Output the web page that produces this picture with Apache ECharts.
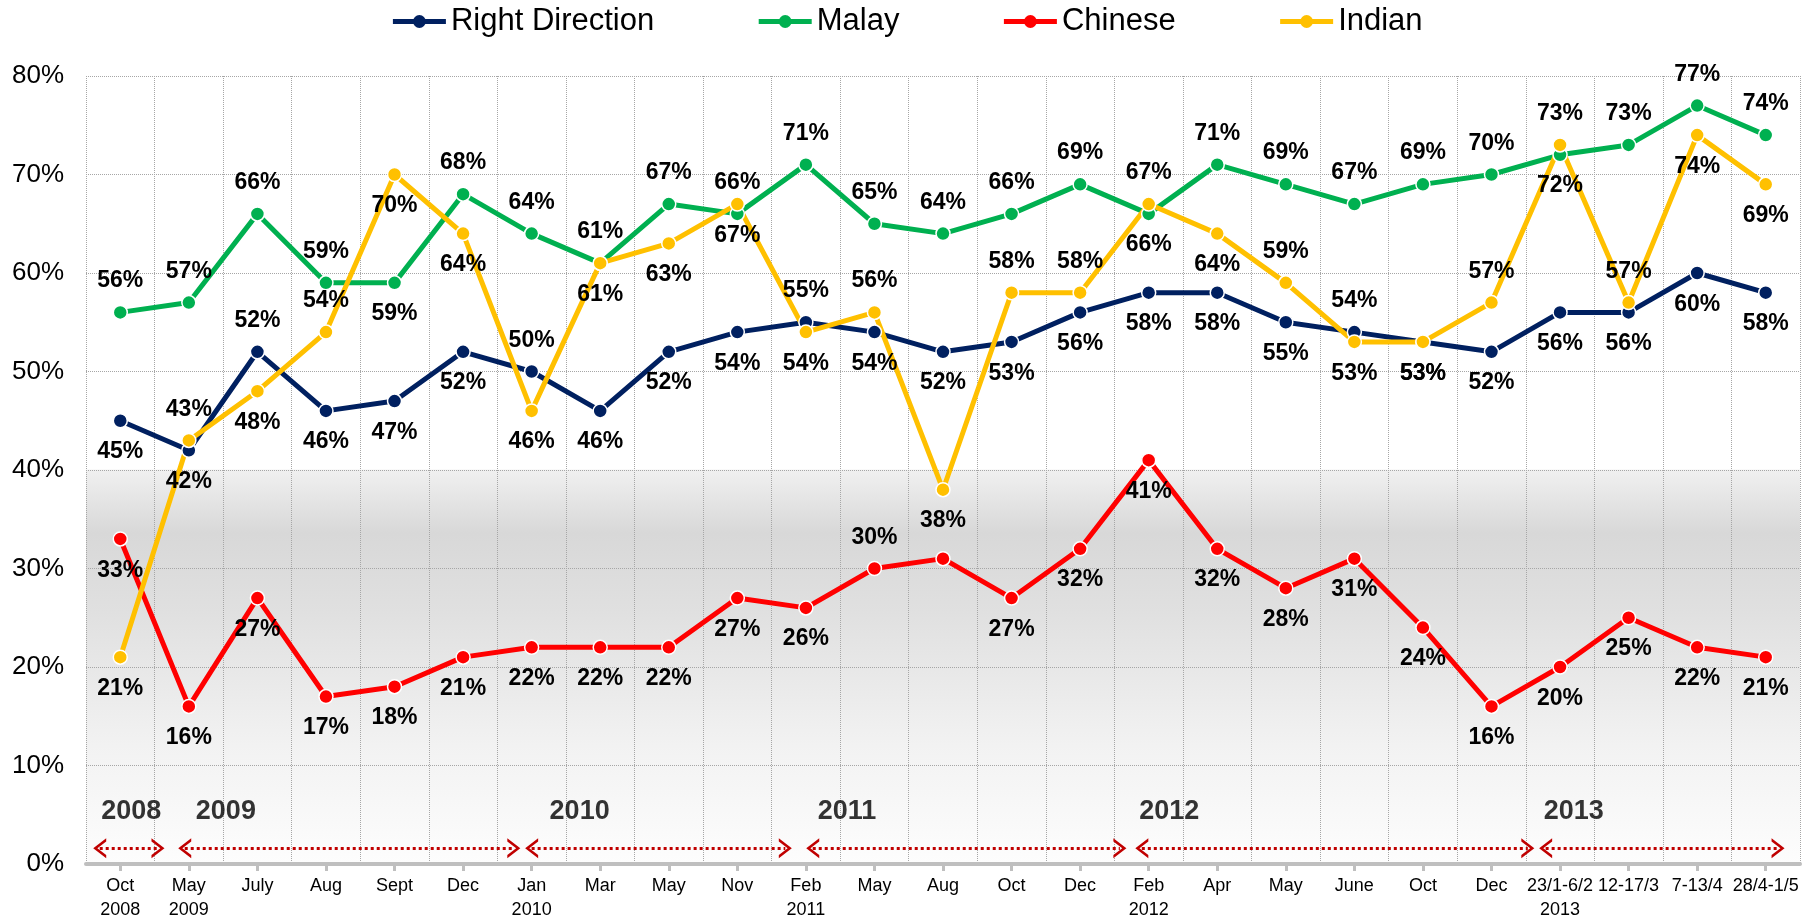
<!DOCTYPE html>
<html>
<head>
<meta charset="utf-8">
<script src="https://cdn.jsdelivr.net/npm/echarts@6/dist/echarts.min.js"></script>
<style>
  html, body { margin: 0; padding: 0; background: #fff; }
  #chart { width: 1813px; height: 922px; }
</style>
</head>
<body>
<div id="chart"></div>
<script>
// x轴 类目
var categories = ['Oct\n2008', 'May\n2009', 'July', 'Aug', 'Sept', 'Dec', 'Jan\n2010', 'Mar', 'May', 'Nov',
  'Feb\n2011', 'May', 'Aug', 'Oct', 'Dec', 'Feb\n2012', 'Apr', 'May', 'June', 'Oct', 'Dec',
  '23/1-6/2\n2013', '12-17/3', '7-13/4', '28/4-1/5'];

// 数据 (%)
var rightDirection = [45, 42, 52, 46, 47, 52, 50, 46, 52, 54, 55, 54, 52, 53, 56, 58, 58, 55, 54, 53, 52, 56, 56, 60, 58];
var malay = [56, 57, 66, 59, 59, 68, 64, 61, 67, 66, 71, 65, 64, 66, 69, 66, 71, 69, 67, 69, 70, 72, 73, 77, 74];
var chinese = [33, 16, 27, 17, 18, 21, 22, 22, 22, 27, 26, 30, 31, 27, 32, 41, 32, 28, 31, 24, 16, 20, 25, 22, 21];
var indian = [21, 43, 48, 54, 70, 64, 46, 61, 63, 67, 54, 56, 38, 58, 58, 67, 64, 59, 53, 53, 57, 73, 57, 74, 69];

var yTicks = [0, 10, 20, 30, 40, 50, 60, 70, 80];

// 年份标注
var years = ['2008', '2009', '2010', '2011', '2012', '2013'];
var yearSpans = [[-0.4, 0.65], [0.84, 5.84], [5.9, 9.8], [10.0, 14.68], [14.8, 20.63], [20.69, 24.28]];
var yearTextX = [0.16, 1.54, 6.7, 10.6, 15.3, 21.2];

// 标签位置 t=上 b=下 n=不显示
var sideRD = 'bbtbbbtbbbtbbbbbbbtbbbbbb';
var sideMalay = 'ttttbttttttttttbtttttbttt';
var sideChinese = 'bbbbbbbbbbbtnbbbbbbbbbbbb';
var sideIndian = 'btbtbbbbbbbtbtttbtbbtttbb';

function build(values, side) {
  return values.map(function (v, i) {
    var s = side.charAt(i);
    return {
      value: v,
      label: { show: s !== 'n', position: s === 't' ? 'top' : 'bottom' }
    };
  });
}

function lineSeries(name, color, values, side) {
  return {
    name: name,
    type: 'line',
    data: build(values, side),
    symbol: 'circle',
    symbolSize: 14,
    lineStyle: { width: 5, color: color },
    itemStyle: { color: color, borderColor: '#fff', borderWidth: 1.5 },
    label: {
      show: true,
      distance: 12,
      fontFamily: 'Liberation Sans',
      fontWeight: 'bold',
      fontSize: 23,
      color: '#000',
      formatter: function (p) { return Math.round(p.value) + '%'; }
    },
    emphasis: { disabled: true },
    z: 3
  };
}

// 箭头 (开口 V 形)
var chevron = 'path://M0,10 L5,0 L10,10 L8.4,10 L5,3.2 L1.6,10 Z';
var tipPad = 0.1;

var chart = echarts.init(document.getElementById('chart'));
var option = {
  animation: false,
  textStyle: { fontFamily: 'Liberation Sans' },
  color: ['#002060', '#00b050', '#ff0000', '#ffc000'],
  legend: {
    top: 1,
    left: 'center',
    itemWidth: 53,
    itemHeight: 16,
    itemGap: 102,
    lineStyle: { width: 5 },
    itemStyle: { borderWidth: 0 },
    textStyle: { fontSize: 31, color: '#000', fontFamily: 'Liberation Sans' },
    data: ['Right Direction', 'Malay', 'Chinese', 'Indian']
  },
  grid: {
    left: 86, right: 13, top: 76, bottom: 55,
    show: true,
    borderWidth: 0,
    backgroundColor: new echarts.graphic.LinearGradient(0, 0, 0, 1, [
      { offset: 0, color: '#ffffff' },
      { offset: 0.499, color: '#ffffff' },
      { offset: 0.5, color: '#f0f0f0' },
      { offset: 0.58, color: '#d8d8d8' },
      { offset: 0.68, color: '#e0e0e0' },
      { offset: 0.85, color: '#f2f2f2' },
      { offset: 1, color: '#fdfdfd' }
    ])
  },
  xAxis: [{
    type: 'category',
    data: categories,
    boundaryGap: true,
    axisLine: { show: true, lineStyle: { color: '#bfbfbf', width: 4 } },
    axisTick: { show: true, alignWithLabel: true, length: 7, lineStyle: { color: '#bfbfbf', width: 3 } },
    axisLabel: { color: '#000', fontSize: 18, lineHeight: 24, margin: 10, interval: 0 },
    splitLine: { show: true, lineStyle: { color: '#a6a6a6', type: 'dotted', width: 1 } }
  }, {
    // 年份标注用的隐藏轴
    type: 'value',
    min: -0.5,
    max: 24.5,
    show: false
  }],
  yAxis: {
    type: 'value',
    min: 0,
    max: 80,
    interval: 10,
    axisLine: { show: false },
    axisTick: { show: false },
    axisLabel: { color: '#000', fontSize: 26, margin: 22, formatter: '{value}%' },
    splitLine: { show: true, lineStyle: { color: '#a6a6a6', type: 'dotted', width: 1 } }
  },
  series: [
    lineSeries('Right Direction', '#002060', rightDirection, sideRD),
    lineSeries('Malay', '#00b050', malay, sideMalay),
    lineSeries('Chinese', '#ff0000', chinese, sideChinese),
    lineSeries('Indian', '#ffc000', indian, sideIndian),
    {
      type: 'scatter',
      xAxisIndex: 1,
      symbolSize: 0,
      silent: true,
      data: years.map(function (y, i) { return [yearTextX[i], 5.3, y]; }),
      label: {
        show: true,
        position: 'inside',
        formatter: function (p) { return p.value[2]; },
        fontSize: 27,
        fontWeight: 'bold',
        color: '#000'
      },
      markLine: {
        silent: true,
        symbol: [chevron, chevron],
        symbolSize: [20, 13],
        label: { show: false },
        lineStyle: { color: '#c00000', type: 'dotted', width: 3 },
        data: yearSpans.map(function (s) {
          return [{ coord: [s[0] + tipPad, 1.6] }, { coord: [s[1] - tipPad, 1.6] }];
        })
      }
    }
  ]
};
chart.setOption(option);
</script>
</body>
</html>
